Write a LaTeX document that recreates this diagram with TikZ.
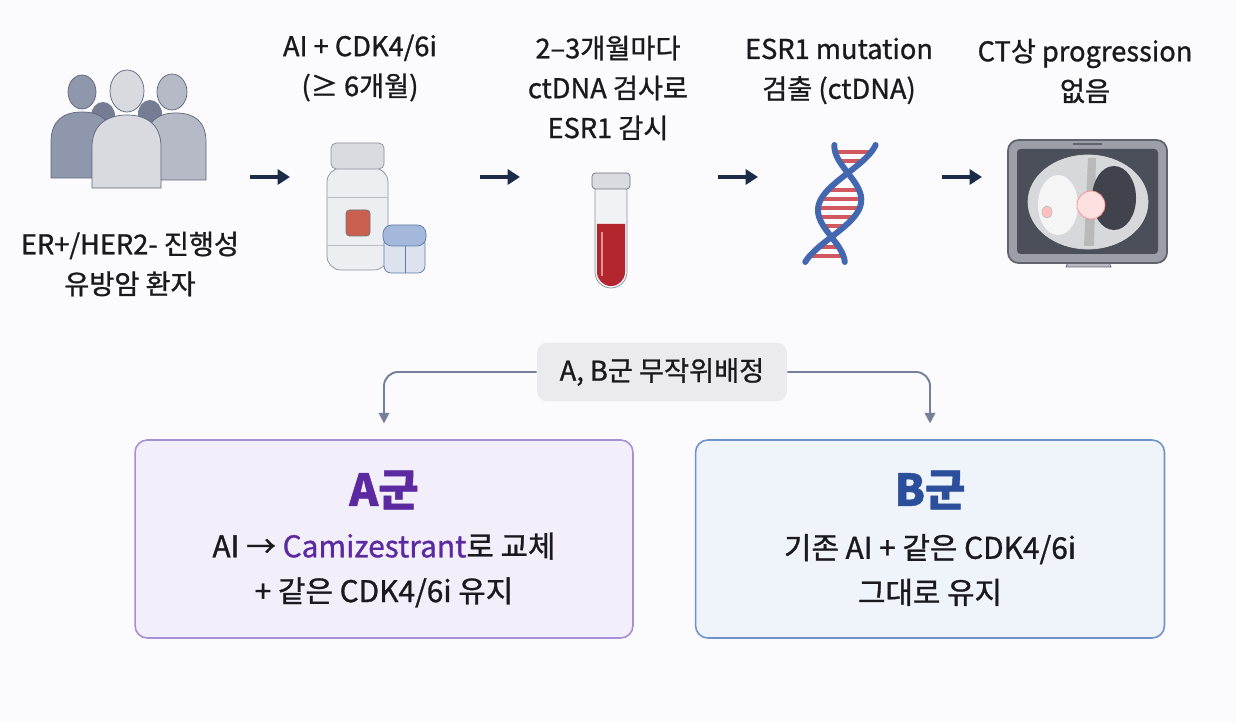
\documentclass[tikz,border=0pt]{standalone}
\usepackage{fontspec}
\setmainfont{Noto Sans CJK KR}[RawFeature={embolden=1}]
\usepackage{tikz}
\usetikzlibrary{arrows.meta, positioning}

\definecolor{bgcol}{HTML}{FBFBFD}
\definecolor{ink}{HTML}{1A1A1E}
\definecolor{navy}{HTML}{1C2B4A}
\definecolor{branchcol}{HTML}{76809A}
\definecolor{randfill}{HTML}{EBEBEF}
\definecolor{purpA}{HTML}{5B2AA0}
\definecolor{fillA}{HTML}{F2EFFA}
\definecolor{lineA}{HTML}{A68FD2}
\definecolor{blueB}{HTML}{2B4F9A}
\definecolor{fillB}{HTML}{EFF3FA}
\definecolor{lineB}{HTML}{6F93C9}
\definecolor{pplline}{HTML}{5D6578}
\definecolor{pplback}{HTML}{747D93}
\definecolor{ppldark}{HTML}{8E97AB}
\definecolor{pplmid}{HTML}{B6BAC7}
\definecolor{ppllight}{HTML}{D8DAE0}
\definecolor{bottleline}{HTML}{8A8F9A}
\definecolor{bottlebody}{HTML}{ECEEF1}
\definecolor{capgray}{HTML}{D9DBE0}
\definecolor{pillred}{HTML}{C9604F}
\definecolor{jarline}{HTML}{5D78A8}
\definecolor{jarbody}{HTML}{DCE3EF}
\definecolor{jarlid}{HTML}{A3B8DA}
\definecolor{blood}{HTML}{B3262E}
\definecolor{glass}{HTML}{F1F2F5}
\definecolor{dnablue}{HTML}{4468B0}
\definecolor{dnared}{HTML}{D0585E}
\definecolor{ctframe}{HTML}{9C9FA8}
\definecolor{ctline}{HTML}{5F636D}
\definecolor{ctscreen}{HTML}{4B4F5A}
\definecolor{ctbody}{HTML}{D6D8DC}

\begin{document}
\begin{tikzpicture}[x=0.02cm, y=-0.02cm,
    steptext/.style={align=center, text=ink, font=\fontsize{15.5}{22.7}\selectfont},
    stepline/.style={draw=navy, line width=1.8pt, -{Triangle[length=7pt,width=8.5pt]}},
    branch/.style={draw=branchcol, line width=1.1pt, rounded corners=8pt, shorten >=9pt, -{Triangle[length=6pt,width=6pt]}},
    grpbox/.style={rounded corners=7pt, line width=0.9pt, minimum height=3.96cm},
    grptitle/.style={font=\fontsize{25}{28}\bfseries\selectfont},
    grptext/.style={align=center, text=ink, font=\fontsize{17}{25.5}\selectfont}]

  \useasboundingbox (0,0) rectangle (1236,722);
  \fill[bgcol] (0,0) rectangle (1236,722);

  % patients
  \fill[pplback] (103,116) ellipse [x radius=12, y radius=14];
  \fill[pplback] (150,114) ellipse [x radius=12, y radius=14];
  \filldraw[fill=ppldark, draw=pplline] (51,178) -- (51,142) .. controls (51,120) and (64,112) .. (82,112) .. controls (100,112) and (113,120) .. (113,142) -- (113,178) -- cycle;
  \filldraw[fill=ppldark, draw=pplline] (82,92) ellipse [x radius=14, y radius=17];
  \filldraw[fill=pplmid, draw=pplline] (146,180) -- (146,142) .. controls (146,121) and (158,113) .. (176,113) .. controls (194,113) and (206,121) .. (206,142) -- (206,180) -- cycle;
  \filldraw[fill=pplmid, draw=pplline] (172,92) ellipse [x radius=15, y radius=18];
  \filldraw[fill=ppllight, draw=pplline] (92,188) -- (92,147) .. controls (92,125) and (107,115) .. (127,115) .. controls (147,115) and (161,125) .. (161,147) -- (161,188) -- cycle;
  \filldraw[fill=ppllight, draw=pplline] (127,91) ellipse [x radius=17, y radius=21];

  % bottle
  \filldraw[fill=bottlebody, draw=bottleline, rounded corners=8pt] (327,168) rectangle (388,270);
  \filldraw[fill=capgray, draw=bottleline, rounded corners=3pt] (331,143) rectangle (384,169);
  \draw[bottleline!60] (327,197) -- (388,197);
  \draw[bottleline!60] (327,245) -- (388,245);
  \filldraw[fill=pillred, draw=bottleline!80!black, rounded corners=2pt] (346,210) rectangle (370,236);
  \filldraw[fill=jarbody, draw=jarline, rounded corners=4pt] (384,236) rectangle (425,273);
  \draw[jarline] (405,246) -- (405,273);
  \filldraw[fill=jarlid, draw=jarline, rounded corners=5pt] (383,225) rectangle (426,246);

  % tube
  \filldraw[fill=glass, draw=bottleline] (595,186) -- (595,272) arc[start angle=180, end angle=0, radius=16] -- (627,186);
  \fill[blood] (597,224) -- (597,272) arc[start angle=180, end angle=0, radius=14] -- (625,224) -- cycle;
  \draw[white, line width=1.5pt, opacity=.5] (602,232) -- (602,276);
  \filldraw[fill=capgray, draw=bottleline!80!black, rounded corners=2pt] (592,173) rectangle (630,189);

  % dna
  \foreach \r in {152,161,190,199,208,217,226,247,256}
    \draw[dnared, line width=1.8pt] ({855-(\r-145)*30/117 + 20*sin((\r-173)*180/64)}, \r) -- ({855-(\r-145)*30/117 - 20*sin((\r-173)*180/64)}, \r);
  \draw[dnablue, line width=3.4pt, line cap=round] plot[domain=145:262, samples=70, smooth] ({855-(\x-145)*30/117 + 21*sin((\x-173)*180/64)}, \x);
  \draw[dnablue, line width=3.4pt, line cap=round] plot[domain=145:262, samples=70, smooth] ({855-(\x-145)*30/117 - 21*sin((\x-173)*180/64)}, \x);

  % ct
  \filldraw[fill=ctframe!70, draw=ctline] (1070,257) -- (1066,267) -- (1111,267) -- (1107,257) -- cycle;
  \filldraw[fill=ctframe, draw=ctline, line width=1pt, rounded corners=6pt] (1008,140) rectangle (1167,263);
  \fill[ctscreen, rounded corners=2pt] (1017,149) rectangle (1158,254);
  \draw[ctline, line width=1.5pt] (1073,144) -- (1102,144);
  \filldraw[fill=ctbody, draw=white!70!gray] (1088,202) ellipse [x radius=60, y radius=47];
  \fill[white!92!gray] (1058,205) ellipse [x radius=20, y radius=30];
  \fill[gray!55] (1088,158) -- (1096,158) -- (1094,246) -- (1084,246) -- cycle;
  \fill[ctscreen!85!black] (1114,198) ellipse [x radius=22, y radius=32];
  \filldraw[fill=white!88!red, draw=red!45] (1091,205) circle [radius=14];
  \filldraw[fill=red!25, draw=gray!50] (1047,212) ellipse [x radius=5, y radius=6];

  % textes du haut
  \node[steptext] (patient)  at (130,264) {ER+/HER2- 진행성\\유방암 환자};
  \node[steptext] (therapy)  at (360,68)  {AI + CDK4/6i\\(≥ 6개월)};
  \node[steptext] (monitor)  at (608,88)  {2–3개월마다\\ctDNA 검사로\\ESR1 감시};
  \node[steptext] (mutation) at (839,71)  {ESR1 mutation\\검출 (ctDNA)};
  \node[steptext] (ct)       at (1085,71) {CT상 progression\\없음};

  \coordinate (a1) at (250,177); \coordinate (b1) at (290,177);
  \coordinate (a2) at (480,177); \coordinate (b2) at (520,177);
  \coordinate (a3) at (718,177); \coordinate (b3) at (758,177);
  \coordinate (a4) at (942,177); \coordinate (b4) at (982,177);
  \draw[stepline] (a1) -- (b1);
  \draw[stepline] (a2) -- (b2);
  \draw[stepline] (a3) -- (b3);
  \draw[stepline] (a4) -- (b4);

  % randomisation
  \node[fill=randfill, rounded corners=6pt, minimum width=5cm, minimum height=1.18cm, text=ink,
        font=\fontsize{15.5}{18}\selectfont] (rand) at (662,372) {A, B군 무작위배정};

  \node[grpbox, fill=fillA, draw=lineA, minimum width=9.96cm] (grpA) at (384,539) {};
  \node[grpbox, fill=fillB, draw=lineB, minimum width=9.38cm] (grpB) at (930,539) {};

  \draw[branch] (rand.west) -| (grpA.north);
  \draw[branch] (rand.east) -| (grpB.north);

  \node[grptitle, text=purpA] (titleA) at (384,490) {A군};
  \node[grptext] (textA) at (384,570) {AI → {\color{purpA}Camizestrant}로 교체\\+ 같은 CDK4/6i 유지};
  \node[grptitle, text=blueB] (titleB) at (930,490) {B군};
  \node[grptext] (textB) at (930,570) {기존 AI + 같은 CDK4/6i\\그대로 유지};

\end{tikzpicture}
\end{document}
